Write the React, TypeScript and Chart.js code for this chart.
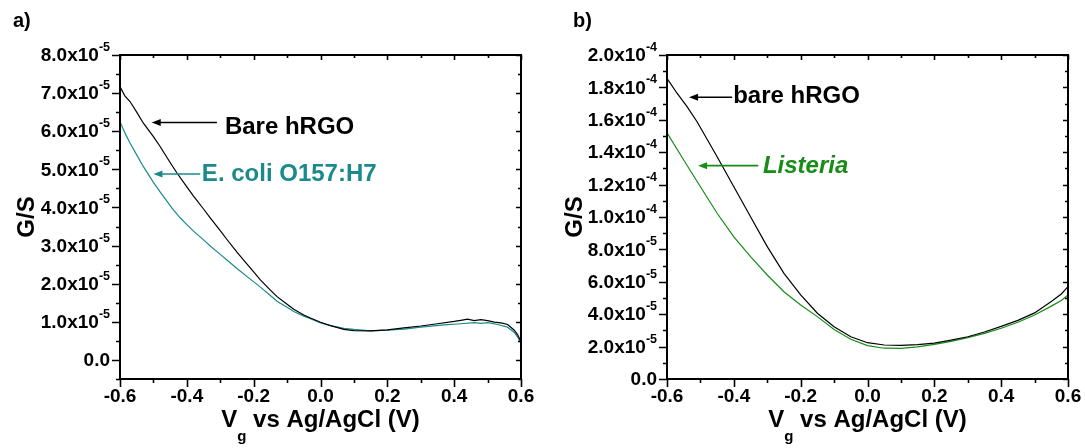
import React, { useEffect, useRef } from "react";
import { Chart, registerables } from "chart.js";

Chart.register(...registerables);

const FONT = "'Liberation Sans', Arial, Helvetica, sans-serif";

// ---------- Panel a (G in units of 1e-5 S) ----------
const vgA_bare = [-0.6, -0.585, -0.57, -0.55, -0.53, -0.5, -0.48, -0.45, -0.43, -0.4, -0.38, -0.35, -0.33, -0.3, -0.28, -0.25, -0.23, -0.2, -0.18, -0.15, -0.13, -0.1, -0.08, -0.05, -0.03, 0.0, 0.03, 0.07, 0.1, 0.15, 0.2, 0.25, 0.3, 0.35, 0.4, 0.42, 0.44, 0.46, 0.48, 0.5, 0.52, 0.54, 0.56, 0.58, 0.59, 0.6];
const gA_bare = [7.17, 6.92, 6.78, 6.5, 6.21, 5.86, 5.6, 5.18, 4.91, 4.54, 4.3, 3.96, 3.73, 3.39, 3.16, 2.83, 2.62, 2.31, 2.1, 1.83, 1.66, 1.46, 1.33, 1.18, 1.1, 0.99, 0.9, 0.8, 0.77, 0.76, 0.79, 0.84, 0.89, 0.95, 1.01, 1.04, 1.07, 1.03, 1.06, 1.03, 0.99, 0.97, 0.93, 0.78, 0.66, 0.48];
const vgA_ecoli = [-0.6, -0.585, -0.57, -0.55, -0.53, -0.5, -0.48, -0.445, -0.42, -0.4, -0.38, -0.35, -0.33, -0.3, -0.28, -0.25, -0.21, -0.18, -0.15, -0.13, -0.1, -0.08, -0.05, -0.03, 0.0, 0.03, 0.07, 0.1, 0.15, 0.2, 0.25, 0.3, 0.37, 0.42, 0.46, 0.48, 0.5, 0.53, 0.56, 0.58, 0.59, 0.6];
const gA_ecoli = [6.25, 5.95, 5.69, 5.38, 5.07, 4.66, 4.41, 3.99, 3.73, 3.55, 3.38, 3.15, 2.99, 2.77, 2.62, 2.4, 2.12, 1.91, 1.69, 1.54, 1.38, 1.27, 1.15, 1.08, 0.97, 0.9, 0.83, 0.8, 0.76, 0.78, 0.81, 0.86, 0.92, 0.95, 0.98, 0.96, 0.98, 0.93, 0.86, 0.72, 0.6, 0.44];

// ---------- Panel b (G in units of 1e-5 S) ----------
const vgB_bare = [-0.6, -0.57, -0.54, -0.51, -0.48, -0.45, -0.4, -0.35, -0.3, -0.25, -0.2, -0.15, -0.1, -0.05, 0.0, 0.05, 0.1, 0.15, 0.2, 0.25, 0.3, 0.35, 0.4, 0.45, 0.5, 0.55, 0.58, 0.6];
const gB_bare = [18.56, 17.64, 16.81, 15.88, 14.8, 13.72, 11.87, 10.02, 8.17, 6.52, 5.19, 4.06, 3.23, 2.61, 2.24, 2.1, 2.08, 2.12, 2.22, 2.4, 2.61, 2.9, 3.25, 3.62, 4.08, 4.78, 5.25, 5.7];
const vgB_listeria = [-0.6, -0.55, -0.5, -0.45, -0.4, -0.35, -0.3, -0.25, -0.2, -0.15, -0.1, -0.05, 0.0, 0.05, 0.1, 0.15, 0.2, 0.25, 0.3, 0.35, 0.4, 0.45, 0.5, 0.55, 0.58, 0.6];
const gB_listeria = [15.2, 13.52, 11.87, 10.23, 8.78, 7.55, 6.42, 5.39, 4.57, 3.85, 3.05, 2.45, 2.06, 1.9, 1.89, 1.98, 2.14, 2.32, 2.55, 2.82, 3.13, 3.5, 3.95, 4.5, 4.85, 5.19];

// ---------- Tick labels ----------
const xTickValues = [-0.6, -0.4, -0.2, 0.0, 0.2, 0.4, 0.6];
const xTickLabels = ["-0.6", "-0.4", "-0.2", "0.0", "0.2", "0.4", "0.6"];

const yTickValuesA = [0, 1, 2, 3, 4, 5, 6, 7, 8];
const yTickMantA = ["0.0", "1.0x10", "2.0x10", "3.0x10", "4.0x10", "5.0x10", "6.0x10", "7.0x10", "8.0x10"];
const yTickExpA = ["", "-5", "-5", "-5", "-5", "-5", "-5", "-5", "-5"];

const yTickValuesB = [0, 2, 4, 6, 8, 10, 12, 14, 16, 18, 20];
const yTickMantB = ["0.0", "2.0x10", "4.0x10", "6.0x10", "8.0x10", "1.0x10", "1.2x10", "1.4x10", "1.6x10", "1.8x10", "2.0x10"];
const yTickExpB = ["", "-5", "-5", "-5", "-5", "-4", "-4", "-4", "-4", "-4", "-4"];

const BLACK = "#000000";
const TEAL = "#1b8a8a";
const GREEN = "#178c17";

type Annot = { x1: number; x2: number; y: number; tx: number; ty: number; text: string; color: string; italic?: boolean };

const annotsA: Annot[] = [
  { x1: -0.505, x2: -0.31, y: 6.23, tx: -0.286, ty: 6.09, text: "Bare hRGO", color: BLACK },
  { x1: -0.5, x2: -0.36, y: 4.88, tx: -0.355, ty: 4.86, text: "E. coli O157:H7", color: TEAL },
];
const annotsB: Annot[] = [
  { x1: -0.534, x2: -0.405, y: 17.39, tx: -0.402, ty: 17.43, text: "bare hRGO", color: BLACK },
  { x1: -0.507, x2: -0.327, y: 13.17, tx: -0.313, ty: 13.1, text: "Listeria", color: GREEN, italic: true },
];

type PanelCfg = {
  id: string;
  label: string;
  canvasLeft: number;
  width: number;
  yAxisWidth: number;
  padRight: number;
  yMin: number;
  yMax: number;
  yMinorStep: number;
  yTicks: number[];
  yMant: string[];
  yExp: string[];
  gsX: number;
  annots: Annot[];
  series: { x: number[]; y: number[]; color: string }[];
};

const panels: PanelCfg[] = [
  {
    id: "a",
    label: "a)",
    canvasLeft: 0,
    width: 545,
    yAxisWidth: 120,
    padRight: 24,
    yMin: -0.5,
    yMax: 8,
    yMinorStep: 0.5,
    yTicks: yTickValuesA,
    yMant: yTickMantA,
    yExp: yTickExpA,
    gsX: 27,
    annots: annotsA,
    series: [
      { x: vgA_bare, y: gA_bare, color: BLACK },
      { x: vgA_ecoli, y: gA_ecoli, color: TEAL },
    ],
  },
  {
    id: "b",
    label: "b)",
    canvasLeft: 545,
    width: 540,
    yAxisWidth: 122,
    padRight: 17,
    yMin: 0,
    yMax: 20,
    yMinorStep: 1,
    yTicks: yTickValuesB,
    yMant: yTickMantB,
    yExp: yTickExpB,
    gsX: 30,
    annots: annotsB,
    series: [
      { x: vgB_bare, y: gB_bare, color: BLACK },
      { x: vgB_listeria, y: gB_listeria, color: GREEN },
    ],
  },
];

function makePlugin(cfg: PanelCfg) {
  return {
    id: "decor_" + cfg.id,
    afterDraw(chart: any) {
      const ctx: CanvasRenderingContext2D = chart.ctx;
      const { left, right, top, bottom } = chart.chartArea;
      const xs = chart.scales.x;
      const ys = chart.scales.y;
      ctx.save();

      // annotations (arrows + text)
      for (const a of cfg.annots) {
        const p1 = xs.getPixelForValue(a.x1);
        const p2 = xs.getPixelForValue(a.x2);
        const py = ys.getPixelForValue(a.y);
        ctx.strokeStyle = a.color;
        ctx.fillStyle = a.color;
        ctx.lineWidth = 1.6;
        ctx.beginPath();
        ctx.moveTo(p1 + 6, py);
        ctx.lineTo(p2, py);
        ctx.stroke();
        ctx.beginPath();
        ctx.moveTo(p1, py);
        ctx.lineTo(p1 + 9, py - 3.5);
        ctx.lineTo(p1 + 9, py + 3.5);
        ctx.closePath();
        ctx.fill();
        ctx.font = `${a.italic ? "italic " : ""}bold 24px ${FONT}`;
        ctx.textAlign = "left";
        ctx.textBaseline = "middle";
        ctx.fillText(a.text, xs.getPixelForValue(a.tx), ys.getPixelForValue(a.ty));
      }

      // frame
      ctx.strokeStyle = "#000";
      ctx.fillStyle = "#000";
      ctx.lineWidth = 2;
      ctx.strokeRect(left, top, right - left, bottom - top);

      // x ticks (major every 0.2, minor every 0.1)
      ctx.lineWidth = 1.6;
      for (let i = 0; i <= 12; i++) {
        const v = -0.6 + i * 0.1;
        const px = Math.round(xs.getPixelForValue(v)) + 0.5;
        const major = i % 2 === 0;
        ctx.beginPath();
        ctx.moveTo(px, bottom);
        ctx.lineTo(px, bottom + (major ? 8 : 4));
        ctx.moveTo(px, top);
        ctx.lineTo(px, top + (major ? 5 : 3));
        ctx.stroke();
      }
      // y ticks
      const nY = Math.round((cfg.yMax - cfg.yMin) / cfg.yMinorStep);
      for (let i = 0; i <= nY; i++) {
        const v = cfg.yMin + i * cfg.yMinorStep;
        const py = Math.round(ys.getPixelForValue(v)) + 0.5;
        const major = cfg.yTicks.some((t) => Math.abs(t - v) < 1e-6);
        ctx.beginPath();
        ctx.moveTo(left, py);
        ctx.lineTo(left - (major ? 8 : 4), py);
        ctx.moveTo(right, py);
        ctx.lineTo(right - (major ? 5 : 3), py);
        ctx.stroke();
      }

      // y tick labels with superscript
      const labelRight = left - 10;
      cfg.yTicks.forEach((v, i) => {
        const py = ys.getPixelForValue(v);
        const mant = cfg.yMant[i];
        const exp = cfg.yExp[i];
        ctx.font = `bold 12.5px ${FONT}`;
        const ew = exp ? ctx.measureText(exp).width : 0;
        ctx.font = `bold 19px ${FONT}`;
        const mw = ctx.measureText(mant).width;
        ctx.textAlign = "left";
        ctx.textBaseline = "middle";
        ctx.fillText(mant, labelRight - ew - mw, py + 1);
        if (exp) {
          ctx.font = `bold 12.5px ${FONT}`;
          ctx.textBaseline = "alphabetic";
          ctx.fillText(exp, labelRight - ew, py - 4);
        }
      });

      // x tick labels
      ctx.font = `bold 19px ${FONT}`;
      ctx.textAlign = "center";
      ctx.textBaseline = "middle";
      xTickValues.forEach((v, i) => {
        ctx.fillText(xTickLabels[i], xs.getPixelForValue(v), 397);
      });

      // x title: V_g vs Ag/AgCl (V)
      const big = `bold 24px ${FONT}`;
      const sub = `bold 15px ${FONT}`;
      ctx.font = big;
      const wV = ctx.measureText("V").width;
      const wRest = ctx.measureText(" vs Ag/AgCl (V)").width;
      ctx.font = sub;
      const wG = ctx.measureText("g").width;
      const total = wV + wG + wRest;
      let cx = (left + right) / 2 - total / 2;
      ctx.textAlign = "left";
      ctx.textBaseline = "alphabetic";
      ctx.font = big;
      ctx.fillText("V", cx, 427);
      cx += wV;
      ctx.font = sub;
      ctx.fillText("g", cx, 441);
      cx += wG;
      ctx.font = big;
      ctx.fillText(" vs Ag/AgCl (V)", cx, 427);

      // y title
      ctx.save();
      ctx.translate(cfg.gsX, (top + bottom) / 2);
      ctx.rotate(-Math.PI / 2);
      ctx.textAlign = "center";
      ctx.textBaseline = "middle";
      ctx.font = big;
      ctx.fillText("G/S", 0, 0);
      ctx.restore();

      // panel label
      ctx.font = `bold 20px ${FONT}`;
      ctx.textAlign = "left";
      ctx.textBaseline = "alphabetic";
      ctx.fillText(cfg.label, cfg.id === "a" ? 13 : 28, 27);

      ctx.restore();
    },
  };
}

function Panel({ cfg }: { cfg: PanelCfg }) {
  const ref = useRef<HTMLCanvasElement>(null);
  useEffect(() => {
    const canvas = ref.current;
    if (!canvas) return;
    const chart = new Chart(canvas, {
      type: "scatter",
      data: {
        datasets: cfg.series.map((s) => ({
          data: s.x.map((x, i) => ({ x, y: s.y[i] })),
          showLine: true,
          borderColor: s.color,
          backgroundColor: s.color,
          borderWidth: 1.2,
          pointRadius: 0,
          tension: 0,
          fill: false,
        })),
      },
      options: {
        responsive: false,
        animation: false,
        devicePixelRatio: 1,
        events: [],
        layout: { padding: { top: 55, right: cfg.padRight, left: 0, bottom: 0 } },
        plugins: { legend: { display: false }, tooltip: { enabled: false } },
        scales: {
          x: {
            type: "linear",
            min: -0.6,
            max: 0.6,
            ticks: { display: false },
            grid: { display: false },
            border: { display: false },
            afterFit: (s: any) => {
              s.height = 69;
            },
          },
          y: {
            type: "linear",
            min: cfg.yMin,
            max: cfg.yMax,
            ticks: { display: false },
            grid: { display: false },
            border: { display: false },
            afterFit: (s: any) => {
              s.width = cfg.yAxisWidth;
            },
          },
        },
      } as any,
      plugins: [makePlugin(cfg)],
    });
    return () => chart.destroy();
  }, [cfg]);
  return (
    <div style={{ position: "absolute", left: cfg.canvasLeft, top: 0, width: cfg.width, height: 448 }}>
      <canvas ref={ref} width={cfg.width} height={448} style={{ width: cfg.width, height: 448, display: "block" }} />
    </div>
  );
}

export default function App() {
  return (
    <div style={{ position: "absolute", left: 0, top: 0, width: 1085, height: 448, background: "#fff", overflow: "hidden" }}>
      {panels.map((p) => (
        <Panel key={p.id} cfg={p} />
      ))}
    </div>
  );
}
